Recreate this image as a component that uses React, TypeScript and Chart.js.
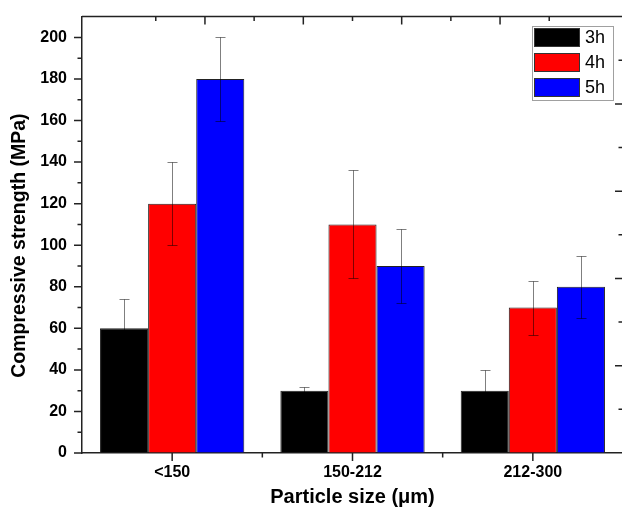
import React, { useEffect, useRef } from 'react';
import { Chart, registerables } from 'chart.js';

Chart.register(...registerables);

const categories = ['<150', '150-212', '212-300'];
const seriesLabels = ['3h', '4h', '5h'];
const values3h = [60, 30, 30];
const values4h = [120, 110, 70];
const values5h = [180, 90, 80];
const errors3h = [14, 2, 10];
const errors4h = [20, 26, 13];
const errors5h = [20, 18, 15];
const seriesColors = ['#000000', '#ff0000', '#0000ff'];
const leftTickValues = [0, 20, 40, 60, 80, 100, 120, 140, 160, 180, 200];
const leftMinorTickValues = [10, 30, 50, 70, 90, 110, 130, 150, 170, 190];
const frameTickValues = [1, 2, 3, 4, 5, 6, 7, 8, 9];

const FONT = '"Liberation Sans", Arial, sans-serif';
const AXIS_COLOR = '#222222';

const errorBarPlugin = {
  id: 'errorBars',
  afterDatasetsDraw(chart: any) {
    const ctx = chart.ctx;
    const ys = chart.scales.y;
    ctx.save();
    ctx.strokeStyle = 'rgba(0,0,0,0.5)';
    ctx.lineWidth = 1;
    chart.data.datasets.forEach((ds: any, i: number) => {
      const meta = chart.getDatasetMeta(i);
      meta.data.forEach((el: any, j: number) => {
        const v = ds.data[j];
        const e = ds.errors[j];
        const x = Math.round(el.x) + 0.5;
        const yt = Math.round(ys.getPixelForValue(v + e)) + 0.5;
        const yb = Math.round(ys.getPixelForValue(v - e)) + 0.5;
        ctx.beginPath();
        ctx.moveTo(x, yt);
        ctx.lineTo(x, yb);
        ctx.moveTo(x - 5, yt);
        ctx.lineTo(x + 5, yt);
        ctx.moveTo(x - 5, yb);
        ctx.lineTo(x + 5, yb);
        ctx.stroke();
      });
    });
    ctx.restore();
  },
};

const framePlugin = {
  id: 'frame',
  afterDraw(chart: any) {
    const ctx = chart.ctx;
    const { left, right, top, bottom } = chart.chartArea;
    const xs = chart.scales.x;
    const ys = chart.scales.y;
    const x2 = chart.scales.x2;
    const y2 = chart.scales.y2;
    ctx.save();
    ctx.strokeStyle = AXIS_COLOR;
    ctx.lineWidth = 1.5;
    ctx.beginPath();
    ctx.moveTo(left, top);
    ctx.lineTo(right, top);
    ctx.lineTo(right, bottom);
    ctx.stroke();

    ctx.beginPath();
    // left axis ticks (outward)
    leftTickValues.forEach((v) => {
      const y = ys.getPixelForValue(v);
      ctx.moveTo(left - 8, y);
      ctx.lineTo(left, y);
    });
    leftMinorTickValues.forEach((v) => {
      const y = ys.getPixelForValue(v);
      ctx.moveTo(left - 4.5, y);
      ctx.lineTo(left, y);
    });
    // bottom ticks (outward)
    for (let k = 0; k < categories.length; k++) {
      const xc = xs.getPixelForValue(k);
      ctx.moveTo(xc, bottom);
      ctx.lineTo(xc, bottom + 8);
      const xb = xs.getPixelForValue(k + 0.5);
      ctx.moveTo(xb, bottom);
      ctx.lineTo(xb, bottom + 4.5);
    }
    // top & right ticks (inward)
    frameTickValues.forEach((v) => {
      const len = v % 2 === 0 ? 8 : 4.5;
      const xt = x2.getPixelForValue(v);
      ctx.moveTo(xt, top);
      ctx.lineTo(xt, top + len);
      const yr = y2.getPixelForValue(v);
      ctx.moveTo(right - len, yr);
      ctx.lineTo(right, yr);
    });
    ctx.stroke();

    // legend
    const lx = 532.5;
    const ly = 26.5;
    ctx.strokeStyle = '#a0a0a0';
    ctx.lineWidth = 1;
    ctx.strokeRect(lx, ly, 81, 74);
    ctx.font = `18px ${FONT}`;
    ctx.textBaseline = 'middle';
    ctx.textAlign = 'left';
    chart.data.datasets.forEach((ds: any, i: number) => {
      const sy = 28 + i * 25;
      ctx.fillStyle = ds.backgroundColor;
      ctx.fillRect(534, sy, 46, 19);
      ctx.strokeStyle = '#333';
      ctx.strokeRect(534.5, sy + 0.5, 45, 18);
      ctx.fillStyle = '#000';
      ctx.fillText(ds.label, 585, sy + 10);
    });
    ctx.restore();
  },
};

export default function App() {
  const ref = useRef<HTMLCanvasElement | null>(null);

  useEffect(() => {
    if (!ref.current) return;
    const valueSets = [values3h, values4h, values5h];
    const errorSets = [errors3h, errors4h, errors5h];
    const chart = new Chart(ref.current, {
      type: 'bar',
      data: {
        labels: categories,
        datasets: seriesLabels.map((label, i) => ({
          label,
          data: valueSets[i],
          errors: errorSets[i],
          backgroundColor: seriesColors[i],
          borderColor: '#222222',
          borderWidth: 1,
          categoryPercentage: 0.8,
          barPercentage: 1.0,
          xAxisID: 'x',
          yAxisID: 'y',
        })) as any,
      },
      options: {
        animation: false,
        responsive: false,
        devicePixelRatio: 1,
        layout: { padding: { left: 0, top: 12, right: 17, bottom: 0 } },
        plugins: {
          legend: { display: false },
          tooltip: { enabled: false },
        },
        scales: {
          x: {
            type: 'category',
            position: 'bottom',
            offset: true,
            grid: { drawOnChartArea: false, color: 'transparent', tickLength: 8 },
            border: { color: AXIS_COLOR, width: 1.5 },
            ticks: {
              color: '#000',
              padding: 1.5,
              font: { family: FONT, size: 16, weight: 'bold' },
            },
            title: {
              display: true,
              text: 'Particle size (μm)',
              color: '#000',
              font: { family: FONT, size: 20, weight: 'bold' },
              padding: { top: 0, bottom: 8 },
            },
            afterFit: (s: any) => {
              s.height = 64;
            },
          },
          y: {
            type: 'linear',
            position: 'left',
            min: 0,
            max: 210,
            grid: { drawOnChartArea: false, color: 'transparent', tickLength: 8 },
            border: { color: AXIS_COLOR, width: 1.5 },
            ticks: {
              stepSize: 20,
              color: '#000',
              padding: 7,
              font: { family: FONT, size: 16, weight: 'bold' },
              callback: (v: any) => (leftTickValues.includes(Number(v)) ? String(v) : ''),
            },
            title: {
              display: true,
              text: 'Compressive strength (MPa)    ',
              color: '#000',
              font: { family: FONT, size: 19.5, weight: 'bold' },
              padding: { top: 8, bottom: 0 },
            },
            afterFit: (s: any) => {
              s.width = 82;
            },
          },
          x2: { type: 'linear', position: 'top', min: 0, max: 10, display: false },
          y2: { type: 'linear', position: 'right', min: 0, max: 10, display: false },
        },
      } as any,
      plugins: [errorBarPlugin, framePlugin],
    });
    return () => chart.destroy();
  }, []);

  return (
    <div
      style={{
        position: 'fixed',
        left: 0,
        top: 0,
        width: 622,
        height: 517,
        overflow: 'hidden',
        background: '#fff',
      }}
    >
      <canvas ref={ref} width={640} height={517} style={{ display: 'block' }} />
    </div>
  );
}
